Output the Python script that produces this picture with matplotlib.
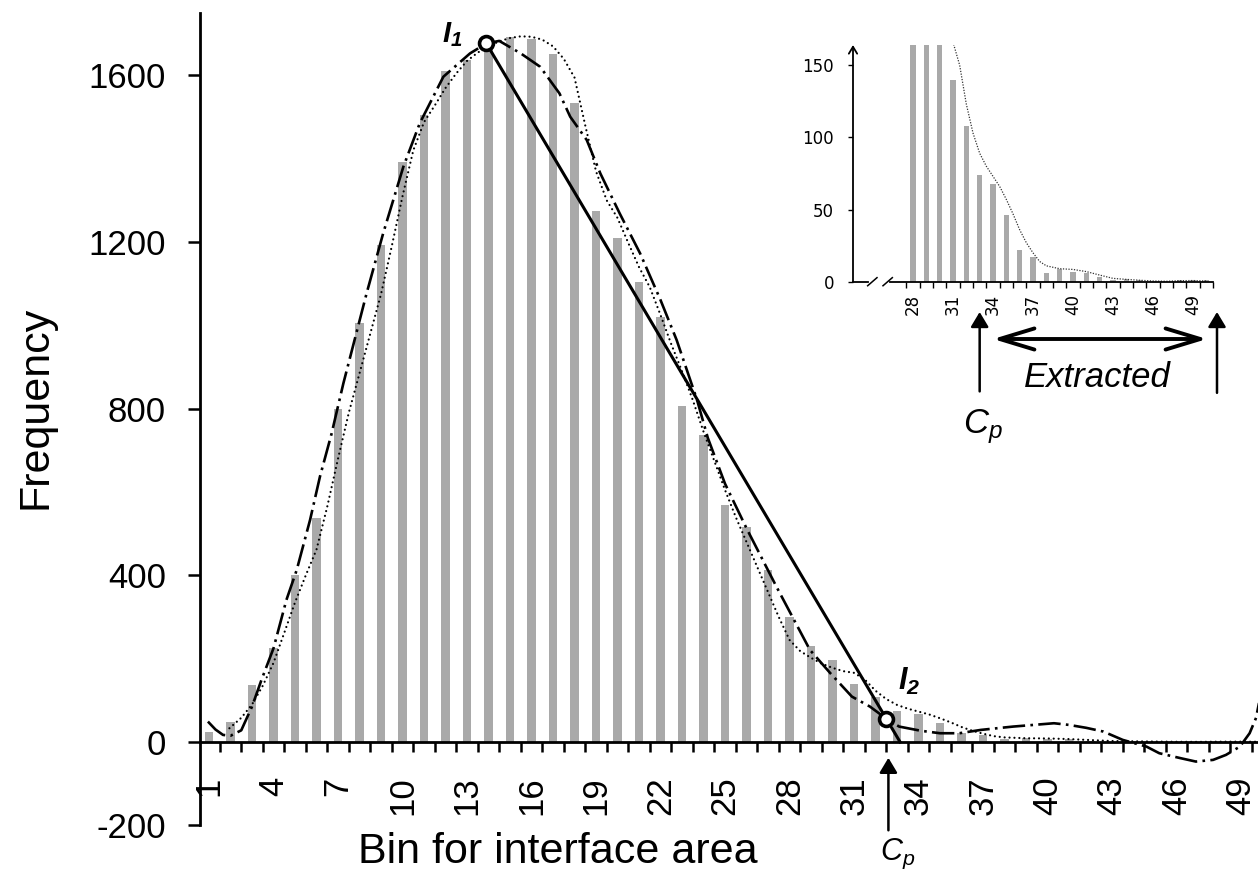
import numpy as np
import matplotlib.pyplot as plt

plt.rcParams['font.family'] = ['Liberation Sans', 'DejaVu Sans']
plt.rcParams['axes.unicode_minus'] = False
plt.rcParams['mathtext.fontset'] = 'custom'
plt.rcParams['mathtext.rm'] = 'Liberation Sans'
plt.rcParams['mathtext.it'] = 'Liberation Sans:italic'
plt.rcParams['mathtext.bf'] = 'Liberation Sans:bold:italic'

# histogram of interface area bins
bins = np.arange(1, 51)
freq = [25, 49, 138, 225, 400, 537, 800, 1005, 1192, 1393,
        1506, 1610, 1637, 1677, 1692, 1688, 1652, 1534, 1274, 1209,
        1105, 1021, 807, 737, 570, 517, 413, 301, 230, 197,
        140, 108, 74, 68, 46, 22, 17, 6, 9, 7,
        6, 3, 1, 2, 1, 0, 0, 1, 1, 1]

# smoothed curve (dotted)
smooth_x = [1.95, 2.5, 3.0, 3.5, 4.0, 4.5, 5.0, 5.5, 6.0, 6.5, 7.0, 7.5, 8.0, 8.5,
            9.0, 9.5, 10.0, 10.5, 11.0, 11.5, 12.0, 12.5, 13.0, 13.5, 14.0, 14.5,
            15.0, 15.5, 16.0, 16.5, 17.0, 17.5, 18.0, 18.5, 19.0, 19.5, 20.0,
            20.5, 21.0, 21.5, 22.0, 22.5, 23.0, 23.5, 24.0, 24.5, 25.0, 25.5,
            26.0, 26.5, 27.0, 27.5, 28.0, 28.5, 29.0, 29.5, 30.0, 30.5, 31.0,
            31.5, 32.0, 32.5, 33.0, 33.5, 34.0, 34.5, 35.0, 35.5, 36.0, 36.5,
            37.0, 37.5, 38.0, 38.5, 39.0, 40.0, 41.0, 42.0, 43.0, 44.0, 45.0,
            46.0, 47.0, 48.0, 49.0, 50.0]
smooth_y = [33, 58, 90, 135, 190, 262, 335, 400, 462, 565, 680, 790, 885, 980,
            1075, 1190, 1310, 1420, 1488, 1528, 1570, 1605, 1635, 1655, 1670, 1682,
            1690, 1694, 1693, 1686, 1670, 1640, 1595, 1480, 1370, 1300, 1258,
            1198, 1140, 1092, 1025, 955, 890, 821, 745, 675, 605, 540,
            480, 420, 360, 300, 245, 218, 202, 188, 178, 170, 166,
            150, 123, 103, 89, 80, 73, 66, 57, 47, 36, 27,
            20, 14, 11, 10, 9, 8.5, 7, 4.6, 2.3, 1.6, 1.0,
            0.5, 0.3, 0.7, 0.8, 0.5]

# polynomial fit (dash-dot)
fit_x = [0.95, 1.3, 1.65, 2.0, 2.5, 3.0, 3.44, 4.0, 4.6, 5.08, 5.7, 6.16, 6.7,
         7.25, 8.33, 9.1, 10.04, 10.8, 11.9, 13.14, 13.9, 14.5, 15.5, 16.4,
         17.3, 17.8, 18.57, 19.2, 20.1, 21.05, 22.0, 22.75, 23.7, 24.2, 25.0,
         26.0, 27.4, 28.95, 29.9, 30.9, 31.74, 32.5, 33.1, 34.1, 35.0, 35.9,
         36.9, 38.4, 40.3, 41.0, 41.8, 42.6, 43.5, 44.6, 45.2, 46.2, 46.9,
         47.7, 48.3, 48.95, 49.4, 49.7, 49.9]
fit_y = [49, 30, 17, 15, 28, 85, 149, 225, 341, 413, 533, 637, 740,
         861, 1077, 1221, 1381, 1485, 1597, 1653, 1677, 1683, 1653, 1621,
         1557, 1501, 1445, 1365, 1269, 1173, 1061, 965, 821, 730, 620,
         513, 372, 221, 165, 109, 85, 56, 37, 27, 21, 21,
         29, 37, 45, 41, 34, 25, 5, -11, -27, -39, -47,
         -43, -31, -11, 21, 58, 110]

# inflection points and cut-off
i1_x, i1_y = 13.9, 1677
i2_x, i2_y = 32.5, 56
cp_bin = 32.6

xtick_main = np.arange(1, 50, 3)
ytick_main = [-200, 0, 400, 800, 1200, 1600]
xtick_inset = np.arange(28, 50, 3)
ytick_inset = [0, 50, 100, 150]

W, H = 1258, 877
fig = plt.figure(figsize=(W / 100, H / 100), dpi=100)
ax = fig.add_axes([200 / W, (H - 825.3) / H, 1058 / W, 812.3 / H])

ax.bar(bins, freq, width=0.38, color='#a9a9a9', zorder=1)
ax.plot(smooth_x, smooth_y, color='k', lw=1.6, linestyle=(0, (0.01, 2.2)),
        dash_capstyle='round', zorder=2)
ax.plot(fit_x, fit_y, color='k', lw=1.9, linestyle=(0, (8.5, 2, 1, 2)), zorder=3)

# straight line from I1 through I2 down to the axis
x_end = i2_x + i2_y * (i2_x - i1_x) / (i1_y - i2_y)
ax.plot([i1_x, x_end], [i1_y, 0], color='k', lw=2.2, zorder=4)
ax.plot([i1_x, i2_x], [i1_y, i2_y], 'o', ms=10, mfc='white', mec='k',
        mew=2.6, zorder=5)

ax.annotate(r'$\mathbf{I_1}$', xy=(i1_x, i1_y), xytext=(-17, 1),
            textcoords='offset points', ha='right', va='baseline', fontsize=21)
ax.annotate(r'$\mathbf{I_2}$', xy=(i2_x, i2_y), xytext=(8.5, 20.5),
            textcoords='offset points', ha='left', va='baseline', fontsize=22)

ax.annotate('', xy=(cp_bin, -38), xytext=(cp_bin, -212), annotation_clip=False,
            arrowprops=dict(arrowstyle='-|>,head_length=0.45,head_width=0.27',
                            mutation_scale=20, lw=1.8, color='k',
                            shrinkA=0, shrinkB=0, clip_on=False))
ax.annotate(r'$C_p$', xy=(cp_bin, 0), xytext=(6.5, -85), textcoords='offset points',
            ha='center', va='baseline', fontsize=22, annotation_clip=False)

ax.set_xlim(0.581, 49.79)
ax.set_ylim(-200, 1750)
for s in ['top', 'right']:
    ax.spines[s].set_visible(False)
ax.spines['left'].set_linewidth(2)
ax.spines['bottom'].set_linewidth(2)
ax.spines['bottom'].set_position(('data', 0))

ax.set_yticks(ytick_main)
ax.set_xticks(xtick_main)
ax.set_xticks(np.arange(1.5, 50, 1), minor=True)
ax.tick_params(axis='y', length=8.6, width=1.8, pad=16, labelsize=25)
ax.tick_params(axis='x', which='major', length=0, pad=25, labelsize=25,
               labelrotation=90)
ax.tick_params(axis='x', which='minor', length=7.2, width=1.8)

fig.text(36 / W, 1 - 407 / H, 'Frequency', rotation=90, ha='center',
         va='center', fontsize=31)
fig.text(558 / W, 1 - 863 / H, 'Bin for interface area', ha='center',
         va='baseline', fontsize=31)

# zoomed view of the tail
axi = fig.add_axes([853 / W, (H - 281.7) / H, 360 / W, 236.7 / H])
axi.set_facecolor('none')
tail = bins >= 28
axi.bar(bins[tail], np.array(freq)[tail], width=0.4, color='#a9a9a9', zorder=1)
sx = np.array(smooth_x)
axi.plot(sx[sx >= 28], np.array(smooth_y)[sx >= 28], color='#333333', lw=0.9,
         linestyle=(0, (1, 1.2)), zorder=2)
axi.set_xlim(23.5, 50.5)
axi.set_ylim(0, 164)
for s in ['top', 'right', 'bottom', 'left']:
    axi.spines[s].set_visible(False)

# y axis with arrow, x axis with break marks
axi.annotate('', xy=(23.5, 164), xytext=(23.5, 0), annotation_clip=False,
             arrowprops=dict(arrowstyle='->,head_length=0.5,head_width=0.3',
                             mutation_scale=10, lw=1.3, color='k',
                             shrinkA=0, shrinkB=0, clip_on=False))
axi.plot([23.5, 24.6], [0, 0], color='k', lw=1.3, clip_on=False)
axi.plot([26.3, 50.5], [0, 0], color='k', lw=1.3, clip_on=False)
axi.plot([24.6, 25.3], [-2.8, 2.8], color='k', lw=1.1, clip_on=False)
axi.plot([25.75, 26.45], [-2.8, 2.8], color='k', lw=1.1, clip_on=False)

axi.set_yticks(ytick_inset)
axi.set_xticks(xtick_inset)
axi.set_xticks(np.arange(27.5, 51, 1), minor=True)
for lab in axi.get_yticklabels() + axi.get_xticklabels():
    lab.set_fontfamily('DejaVu Sans')
axi.tick_params(axis='y', length=3.6, width=1, pad=10, labelsize=12)
axi.tick_params(axis='x', which='major', length=0, pad=9, labelsize=12,
                labelrotation=90)
axi.tick_params(axis='x', which='minor', length=4, width=1)

arrow_up = dict(arrowstyle='-|>,head_length=0.45,head_width=0.27',
                mutation_scale=20, lw=1.8, color='k', shrinkA=0, shrinkB=0,
                clip_on=False)
axi.annotate('', xy=(33.0, -21), xytext=(33.0, -76), annotation_clip=False,
             arrowprops=arrow_up)
axi.annotate('', xy=(50.8, -21), xytext=(50.8, -77), annotation_clip=False,
             arrowprops=arrow_up)
axi.annotate('', xy=(34.0, -39.7), xytext=(50.05, -39.7), annotation_clip=False,
             arrowprops=dict(arrowstyle='<->,head_length=1.25,head_width=0.38',
                             mutation_scale=20, lw=2.8, color='k',
                             shrinkA=0, shrinkB=0, clip_on=False))
axi.text(33.26, -104.8, r'$C_p$', ha='center', va='baseline', fontsize=25)
axi.text(41.8, -73.3, 'Extracted', ha='center', va='baseline', fontsize=25,
         style='italic')

fig.savefig('out.png', dpi=100)
